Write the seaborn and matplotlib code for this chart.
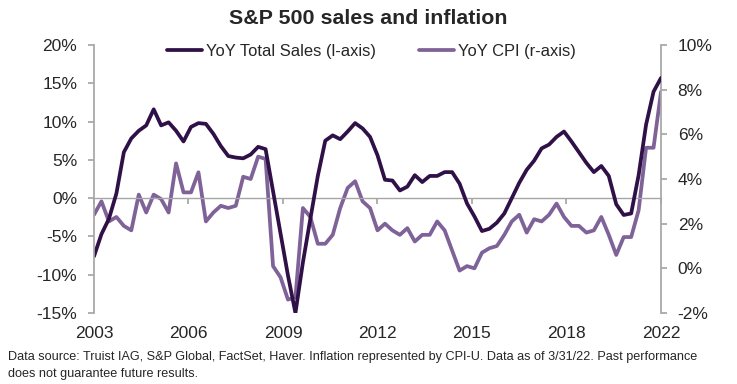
import numpy as np
import pandas as pd
import matplotlib
matplotlib.use("Agg")
import matplotlib.pyplot as plt
import seaborn as sns

# Quarterly observations, Dec-2002 .. latest (index 0..76)
sales = [-7.6, -4.7, -2.7, 0.6, 6.0, 7.8, 8.8, 9.5, 11.6, 9.5,
         9.9, 8.8, 7.4, 9.3, 9.8, 9.7, 8.4, 6.8, 5.5, 5.3,
         5.2, 5.7, 6.7, 6.4, 0.9, -4.6, -10.1, -15.0, -8.4, -2.7,
         2.9, 7.5, 8.2, 7.7, 8.7, 9.8, 9.1, 8.0, 5.6, 2.4,
         2.3, 1.0, 1.5, 3.0, 2.1, 2.9, 2.9, 3.4, 3.4, 1.9,
         -0.7, -2.4, -4.3, -4.0, -3.2, -2.0, 0.0, 2.0, 3.7, 4.9,
         6.5, 7.0, 8.0, 8.7, 7.4, 6.0, 4.6, 3.4, 4.2, 2.9,
         -0.8, -2.2, -2.0, 3.0, 9.6, 13.9, 15.7]
cpi = [2.4, 3.0, 2.1, 2.3, 1.9, 1.7, 3.3, 2.5, 3.3, 3.1,
       2.5, 4.7, 3.4, 3.4, 4.3, 2.1, 2.5, 2.8, 2.7, 2.8,
       4.1, 4.0, 5.0, 4.9, 0.1, -0.4, -1.4, -1.3, 2.7, 2.3,
       1.1, 1.1, 1.5, 2.7, 3.6, 3.9, 3.0, 2.7, 1.7, 2.0,
       1.7, 1.5, 1.8, 1.2, 1.5, 1.5, 2.1, 1.7, 0.8, -0.1,
       0.1, 0.0, 0.7, 0.9, 1.0, 1.5, 2.1, 2.4, 1.6, 2.2,
       2.1, 2.4, 2.9, 2.3, 1.9, 1.9, 1.6, 1.7, 2.3, 1.5,
       0.6, 1.4, 1.4, 2.6, 5.4, 5.4, 7.9]
year_labels = ["2003", "2006", "2009", "2012", "2015", "2018", "2022"]
left_ticks = [-15, -10, -5, 0, 5, 10, 15, 20]
right_ticks = [-2, 0, 2, 4, 6, 8, 10]

SALES_C = "#2f1147"
CPI_C = "#7e6298"
GRID_C = "#a6a6a6"
TXT_C = "#262626"

sns.set_theme(style="white")
plt.rcParams["font.family"] = ["Liberation Sans", "DejaVu Sans"]

n = len(sales)
df = pd.DataFrame({"t": np.arange(n), "sales": sales, "cpi": cpi})

fig = plt.figure(figsize=(7.37, 3.84), dpi=100)
ax = fig.add_axes([94/737, 1-313/384, (661-94)/737, (313-45)/384])
ax2 = ax.twinx()

sns.lineplot(data=df, x="t", y="sales", ax=ax, color=SALES_C, lw=2.7,
             label="YoY Total Sales (l-axis)", legend=False)
sns.lineplot(data=df, x="t", y="cpi", ax=ax2, color=CPI_C, lw=2.7,
             label="YoY CPI (r-axis)", legend=False)
ax.set_zorder(ax2.get_zorder() + 1)
ax.patch.set_visible(False)

ax.set_xlim(0, n - 1)
ax.set_ylim(-15, 20)
ax2.set_ylim(-2, 10)
ax.set_yticks(left_ticks)
ax.set_yticklabels([f"{v}%" for v in left_ticks])
ax2.set_yticks(right_ticks)
ax2.set_yticklabels([f"{v}%" for v in right_ticks])
xt = np.linspace(0, n - 1, len(year_labels))
ax.set_xticks(xt)
ax.set_xticklabels(year_labels)
ax.set_xlabel("")
ax.set_ylabel("")
ax2.set_ylabel("")

for a in (ax, ax2):
    for s in a.spines.values():
        s.set_visible(False)
ax.spines["left"].set_visible(True)
ax.spines["left"].set_color(GRID_C)
ax2.spines["right"].set_visible(True)
ax2.spines["right"].set_color(GRID_C)

ax.tick_params(axis="y", which="both", left=True, length=4, color=GRID_C,
               labelsize=12.5, labelcolor=TXT_C, pad=8)
ax2.tick_params(axis="y", which="both", right=True, length=4, color=GRID_C,
                labelsize=12.5, labelcolor=TXT_C, pad=8)
ax.tick_params(axis="x", bottom=False, labelsize=12.5, labelcolor=TXT_C, pad=3)

# category axis crossing at 0%
sec = ax.secondary_xaxis(15 / 35)
sec.set_xticks(xt)
sec.tick_params(axis="x", direction="out", length=4, color=GRID_C, labelbottom=False)
sec.spines["bottom"].set_color(GRID_C)
sec.spines["bottom"].set_linewidth(1.0)

h1, l1 = ax.get_legend_handles_labels()
h2, l2 = ax2.get_legend_handles_labels()
leg = ax.legend(h1 + h2, l1 + l2, loc="upper center", ncol=2, frameon=False,
                bbox_to_anchor=(0.489, 1.06), fontsize=11.9, handlelength=2.1,
                columnspacing=2.6, handletextpad=0.25)
for t in leg.get_texts():
    t.set_color(TXT_C)

fig.text(0.5, 1 - 18/384, "S&P 500 sales and inflation", ha="center", va="center",
         fontsize=15.4, fontweight="bold", color=TXT_C)
fig.text(8/737, 1 - 357/384,
         "Data source: Truist IAG, S&P Global, FactSet, Haver. Inflation represented by CPI-U. "
         "Data as of 3/31/22. Past performance", ha="left", va="center", fontsize=9.1, color=TXT_C)
fig.text(8/737, 1 - 374/384, "does not guarantee future results.", ha="left", va="center",
         fontsize=9.1, color=TXT_C)

fig.savefig("out.png", dpi=100)
